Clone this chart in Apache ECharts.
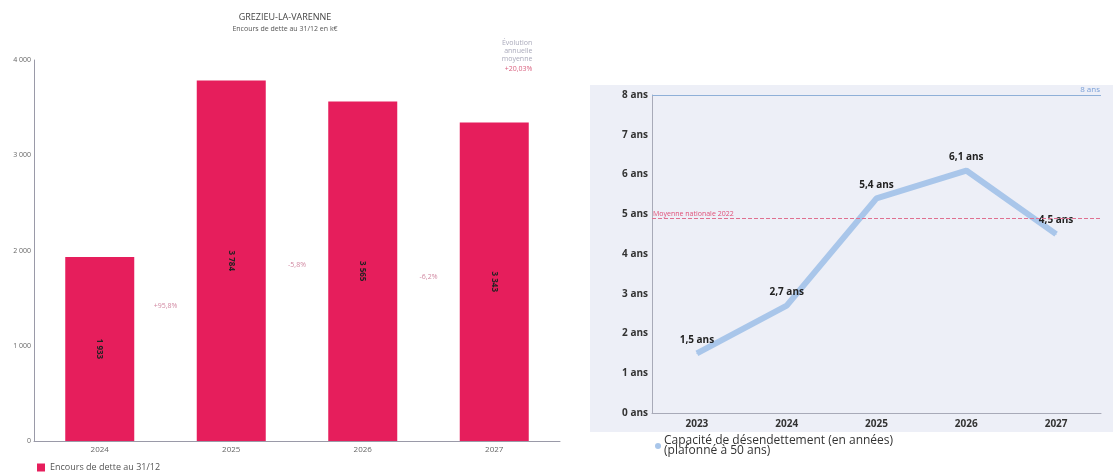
<!DOCTYPE html>
<html><head><meta charset="utf-8">
<script src="https://cdn.jsdelivr.net/npm/echarts@6/dist/echarts.min.js"></script>
<style>html,body{margin:0;padding:0;background:#fff}#c{width:1113px;height:475px}</style>
</head><body><div id="c"></div>
<script>
const debtYears = ['2024','2025','2026','2027'];
const debtValues = [1933, 3784, 3565, 3343];
const changeLabelY = [1420, 1850, 1720];
const debtTicks = [0, 1000, 2000, 3000, 4000];
const capYears = ['2023','2024','2025','2026','2027'];
const capValues = [1.5, 2.7, 5.4, 6.1, 4.5];
const nationalAvg = 4.9;
const capCeiling = 8;

const fmtK = v => String(v).replace(/\B(?=(\d{3})+(?!\d))/g, ' ');
const fr = (v, d) => v.toFixed(d).replace('.', ',');
const changes = debtValues.slice(1).map((v, i) => {
  const p = (v / debtValues[i] - 1) * 100;
  return [i + 1, changeLabelY[i], (p >= 0 ? '+' : '') + fr(p, 1) + '%'];
});
const cagr = (Math.pow(debtValues[3] / debtValues[0], 1 / 3) - 1) * 100;

const chart = echarts.init(document.getElementById('c'), null, {renderer: 'canvas'});
chart.setOption({
  animation: false,
  backgroundColor: '#ffffff',
  textStyle: {fontFamily: '"Open Sans", "DejaVu Sans", sans-serif'},
  graphic: [
    {type: 'rect', shape: {x: 590, y: 85, width: 523, height: 347}, style: {fill: '#edeff7'}, z: -10}
  ],
  title: [
    {text: 'GREZIEU-LA-VARENNE', subtext: 'Encours de dette au 31/12 en k€', left: 280, top: 8, textAlign: 'center',
     textStyle: {fontSize: 9, fontWeight: 'normal', color: '#444'}, subtextStyle: {fontSize: 7, color: '#555'}, itemGap: 3},
    {text: 'Évolution\nannuelle\nmoyenne', subtext: (cagr >= 0 ? '+' : '') + fr(cagr, 2) + '%', right: 1113 - 568, top: 34, textAlign: 'right',
     textStyle: {fontSize: 7, fontWeight: 'normal', color: '#aab', lineHeight: 8, align: 'right'},
     subtextStyle: {fontSize: 7, color: '#d9607f', align: 'right'}, itemGap: 2}
  ],
  legend: [
    {data: ['Encours de dette au 31/12'], left: 32, top: 458, itemWidth: 8, itemHeight: 8, icon: 'rect',
     textStyle: {fontSize: 9, color: '#555'}},
    {data: ['Capacité de désendettement (en années)\n(plafonné à 50 ans)'], left: 650, top: 428, itemWidth: 6, itemHeight: 6, icon: 'circle',
     itemGap: 2, textStyle: {fontSize: 12, color: '#333', lineHeight: 10, padding: [6, 0, 0, -2]}}
  ],
  grid: [
    {left: 34, right: 553, top: 60, bottom: 34},
    {left: 652, right: 12, top: 95, bottom: 62}
  ],
  xAxis: [
    {type: 'category', gridIndex: 0, data: debtYears, axisLine: {lineStyle: {color: '#9a9aa8'}}, axisTick: {show: false},
     axisLabel: {fontSize: 8, color: '#666', margin: 5}},
    {type: 'value', gridIndex: 0, min: 0, max: 4, show: false},
    {type: 'category', gridIndex: 1, data: capYears, axisLine: {lineStyle: {color: '#a8aab8'}}, axisTick: {show: false},
     axisLabel: {fontSize: 10, fontWeight: 'bold', color: '#333', margin: 6}}
  ],
  yAxis: [
    {type: 'value', gridIndex: 0, min: 0, max: 4000, interval: 1000, splitLine: {show: false},
     axisLine: {show: true, lineStyle: {color: '#9a9aa8'}}, axisTick: {show: false},
     axisLabel: {fontSize: 7, color: '#666', margin: 3, formatter: v => fmtK(v)}},
    {type: 'value', gridIndex: 1, min: 0, max: 8, interval: 1, splitLine: {show: false},
     axisLine: {show: true, lineStyle: {color: '#a8aab8'}}, axisTick: {show: false},
     axisLabel: {fontSize: 10, fontWeight: 'bold', color: '#333', margin: 4, formatter: v => v + ' ans'}}
  ],
  series: [
    {name: 'Encours de dette au 31/12', type: 'bar', xAxisIndex: 0, yAxisIndex: 0, data: debtValues, barWidth: 69,
     itemStyle: {color: '#e61e5c'},
     label: {show: true, position: 'inside', rotate: -90, fontSize: 8, fontWeight: 'bold', color: '#222', formatter: p => fmtK(p.value)}},
    {type: 'scatter', xAxisIndex: 1, yAxisIndex: 0, data: changes, symbolSize: 0, silent: true,
     label: {show: true, position: 'inside', fontSize: 7, color: '#c56a8a', formatter: p => p.value[2]}},
    {name: 'Capacité de désendettement (en années)\n(plafonné à 50 ans)', type: 'line', xAxisIndex: 2, yAxisIndex: 1, data: capValues,
     showSymbol: true, symbol: 'circle', symbolSize: 1, lineStyle: {color: '#a9c6ea', width: 6}, itemStyle: {color: '#a9c6ea'},
     label: {show: true, position: 'top', distance: 8, fontSize: 10, fontWeight: 'bold', color: '#222', formatter: p => fr(p.value, 1) + ' ans'},
     markLine: {symbol: 'none', silent: true, data: [
       {yAxis: capCeiling, lineStyle: {color: '#8fb0d8', width: 1, type: 'solid'},
        label: {position: 'insideEndTop', formatter: capCeiling + ' ans', fontSize: 8, color: '#7aa0d8', distance: 1}},
       {yAxis: nationalAvg, lineStyle: {color: '#e07090', width: 1, type: 'dashed'},
        label: {position: 'insideStartTop', formatter: 'Moyenne nationale 2022', fontSize: 7, color: '#e05078', distance: 1}}
     ]}}
  ]
});
</script></body></html>
